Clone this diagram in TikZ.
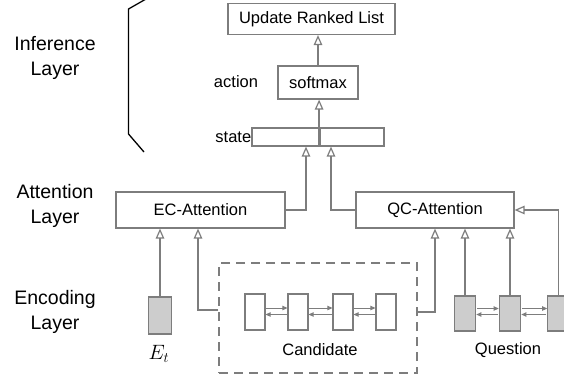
\documentclass[tikz,border=0pt]{standalone}
\usepackage{fontspec}
\setmainfont{Liberation Sans}
\usetikzlibrary{arrows.meta,calc}
\definecolor{lg}{RGB}{125,125,125}
\definecolor{cg}{RGB}{205,205,205}
\tikzset{
  bx/.style={draw=lg, line width=1.2pt, inner sep=0pt, font=\fontsize{16.5}{19}\selectfont},
  cellw/.style={draw=lg, line width=1.2pt, fill=white, minimum width=20pt, minimum height=36pt, inner sep=0pt},
  cellg/.style={draw=lg, line width=1.2pt, fill=cg, minimum width=21.5pt, minimum height=35pt, inner sep=0pt},
  conn/.style={draw=lg, line width=1.3pt, -{Triangle[open, length=10pt, width=8.5pt, line width=1.2pt]}},
  sm/.style={draw=lg, line width=0.9pt, -{Triangle[length=5pt, width=4.5pt]}},
  lbl/.style={font=\fontsize{16.5}{19}\selectfont, inner sep=0pt},
  side/.style={font=\fontsize{19.5}{25}\selectfont, align=center, inner sep=0pt},
}
\begin{document}
\begin{tikzpicture}[x=1pt,y=-1pt]
\useasboundingbox (0,0) rectangle (564,385);
% brace
\draw[black, line width=1.3pt] (146,-1) -- (128.5,9) -- (128.5,134) -- (144,152);
% side labels
\node[side] (inf) at (55,58) {Inference\\Layer};
\node[side] (att) at (55,206) {Attention\\Layer};
\node[side] (enc) at (55,312) {Encoding\\Layer};
% inference layer
\node[bx, minimum width=167pt, minimum height=31pt] (upd) at (311.5,19) {Update Ranked List};
\node[bx, minimum width=80pt, minimum height=33pt] (soft) at (318,82.5) {softmax};
\node[lbl] (act) at (236,82) {action};
\node[bx, minimum width=66.5pt, minimum height=18pt] (stL) at (285.25,137) {};
\node[bx, minimum width=64pt, minimum height=18pt] (stR) at (352,137) {};
\node[lbl, anchor=east] (stt) at (stL.west) {state};
\draw[conn] (soft.north) -- (soft.north |- upd.south);
\draw[conn] (stL.north east) -- (stL.north east |- soft.south);
% attention layer
\node[bx, minimum width=169pt, minimum height=36pt] (ec) at (200.5,210) {EC-Attention};
\node[bx, minimum width=158pt, minimum height=36pt] (qc) at (435,210) {QC-Attention};
\draw[conn] (ec.east) -| ([xshift=20.75pt]stL.south);
\draw[conn] (qc.west) -| ([xshift=-21pt]stR.south);
% encoding layer
\node[cellg, minimum width=23pt, minimum height=37pt] (et) at (160,315.5) {};
\node[lbl, font=\fontsize{20}{22}\selectfont] (etl) at (159,354) {$E_t$};
\draw[conn] (et.north) -- (et.north |- ec.south);
\node[draw=lg, line width=1.2pt, dash pattern=on 9pt off 6pt, minimum width=198pt, minimum height=110pt, inner sep=0pt] (dbox) at (318,318) {};
\node[cellw] (c1) at (255,312) {};
\node[cellw] (c2) at (298,312) {};
\node[cellw] (c3) at (343,312) {};
\node[cellw] (c4) at (386,312) {};
\node[lbl] (cand) at (320,350) {Candidate};
\foreach \a/\b in {c1/c2,c2/c3,c3/c4}{
  \draw[sm] ([yshift=4pt]\a.east) -- ([yshift=4pt]\b.west);
  \draw[sm] ([yshift=-2.5pt]\b.west) -- ([yshift=-2.5pt]\a.east);
}
\draw[conn] ([yshift=8pt]dbox.west) -| ([xshift=-2.5pt]ec.south);
\draw[conn] ([yshift=6pt]dbox.east) -| (qc.south);
\node[cellg] (q1) at (465,313.5) {};
\node[cellg] (q2) at (510,313.5) {};
\node[cellg] (q3) at (558.5,313.5) {};
\node[lbl] (ques) at (508,350) {Question};
\foreach \a/\b in {q1/q2,q2/q3}{
  \draw[sm, shorten <=1pt] ([yshift=5pt]\a.east) -- ([yshift=5pt]\b.west);
  \draw[sm, shorten <=1pt] ([yshift=-1pt]\b.west) -- ([yshift=-1pt]\a.east);
}
\draw[conn] (q1.north) -- (q1.north |- qc.south);
\draw[conn] (q2.north) -- (q2.north |- qc.south);
\draw[conn] (q3.north) |- (qc.east);
\end{tikzpicture}
\end{document}
